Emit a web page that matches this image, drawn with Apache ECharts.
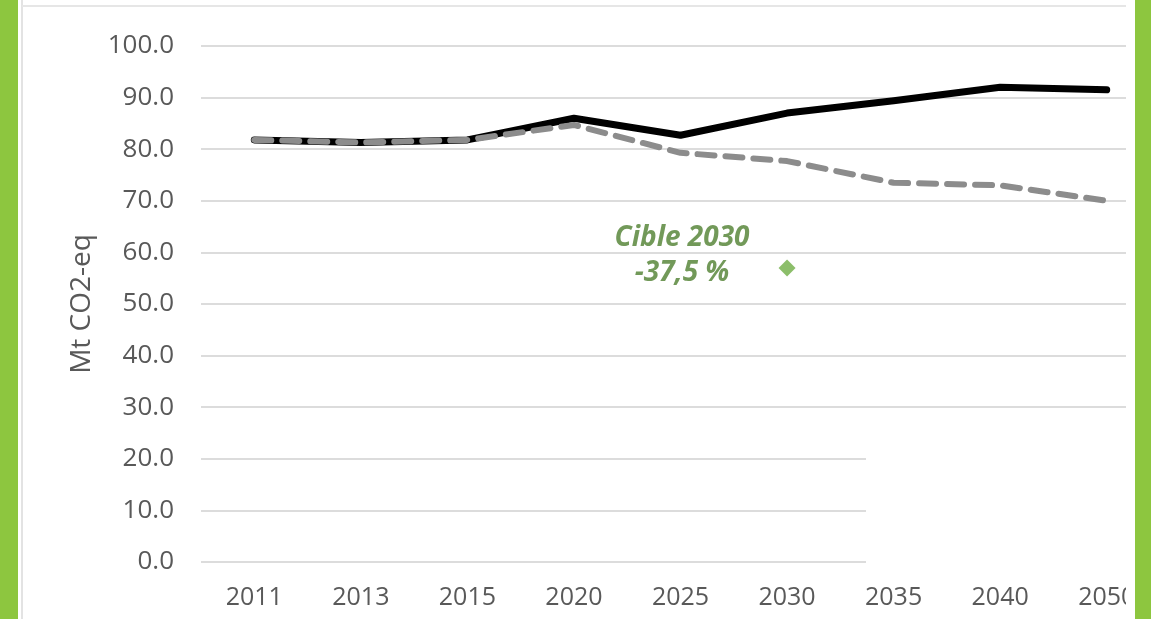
<!DOCTYPE html>
<html>
<head>
<meta charset="utf-8">
<script src="https://cdn.jsdelivr.net/npm/echarts@6/dist/echarts.min.js"></script>
<style>
  html, body { margin: 0; padding: 0; background: #ffffff; }
  #chart { width: 1151px; height: 619px; }
</style>
</head>
<body>
<div id="chart"></div>
<script>
const categories = ['2011', '2013', '2015', '2020', '2025', '2030', '2035', '2040', '2050'];
const trendValues = [81.8, 81.3, 81.8, 86.0, 82.7, 87.0, 89.4, 92.0, 91.5];
const targetValues = [81.8, 81.3, 81.8, 84.7, 79.3, 77.7, 73.5, 73.0, 70.0];
const target2030Values = [null, null, null, null, null, 57.0, null, null, null];
const yTicks = { min: 0, max: 100, interval: 10 };
const annotationText = 'Cible 2030\n-37,5 %';

const chart = echarts.init(document.getElementById('chart'), null, { renderer: 'canvas' });

chart.setOption({
  backgroundColor: '#ffffff',
  animation: false,
  grid: { left: 201, top: 46, right: -9, height: 516, containLabel: false, outerBoundsMode: 'none' },
  xAxis: {
    type: 'category',
    data: categories,
    boundaryGap: true,
    axisLine: { show: false },
    axisTick: { show: false },
    axisLabel: {
      interval: 0,
      color: '#595959',
      fontFamily: 'Open Sans',
      fontSize: 25,
      margin: 23
    },
    splitLine: { show: false }
  },
  yAxis: {
    type: 'value',
    min: yTicks.min,
    max: yTicks.max,
    interval: yTicks.interval,
    name: 'Mt CO2-eq',
    nameLocation: 'middle',
    nameGap: 105,
    nameTextStyle: { color: '#595959', fontFamily: 'Open Sans', fontSize: 28 },
    axisLine: { show: false },
    axisTick: { show: false },
    axisLabel: {
      color: '#595959',
      fontFamily: 'Open Sans',
      fontSize: 26,
      margin: 27,
      formatter: v => v.toFixed(1)
    },
    splitLine: { lineStyle: { color: '#dcdcdc', width: 2 } }
  },
  series: [
    {
      name: 'Tendance',
      type: 'line',
      data: trendValues,
      symbol: 'none',
      lineStyle: { color: '#000000', width: 7, cap: 'round', join: 'round' },
      z: 2
    },
    {
      name: 'Objectif',
      type: 'line',
      data: targetValues,
      symbol: 'none',
      lineStyle: { color: '#8c8c8c', width: 6, type: [17, 11], cap: 'round', join: 'round' },
      z: 3
    },
    {
      name: 'Cible 2030',
      type: 'scatter',
      data: target2030Values,
      symbol: 'diamond',
      symbolSize: 17,
      itemStyle: { color: '#6fae45' },
      label: {
        show: true,
        position: 'inside',
        offset: [-105, -12],
        formatter: annotationText,
        color: '#4f8030',
        fontFamily: 'Open Sans',
        fontWeight: 'bold',
        fontStyle: 'italic',
        fontSize: 28,
        lineHeight: 35,
        align: 'center'
      },
      z: 4
    }
  ],
  graphic: [
    { type: 'rect', z: 100, shape: { x: 866, y: 420, width: 270, height: 152 }, style: { fill: '#ffffff' } },
    { type: 'rect', z: 100, shape: { x: 1126, y: 0, width: 10, height: 619 }, style: { fill: '#ffffff' } },
    { type: 'rect', z: 101, shape: { x: 1135, y: 0, width: 16, height: 619 }, style: { fill: '#8dc63f' } },
    { type: 'rect', z: 101, shape: { x: 0, y: 0, width: 18, height: 619 }, style: { fill: '#8dc63f' } },
    { type: 'line', z: 101, shape: { x1: 22, y1: 0, x2: 22, y2: 619 }, style: { stroke: '#e3e3e3', lineWidth: 2 } },
    { type: 'line', z: 101, shape: { x1: 22, y1: 6, x2: 1126, y2: 6 }, style: { stroke: '#e6e6e6', lineWidth: 2 } }
  ]
});
</script>
</body>
</html>
